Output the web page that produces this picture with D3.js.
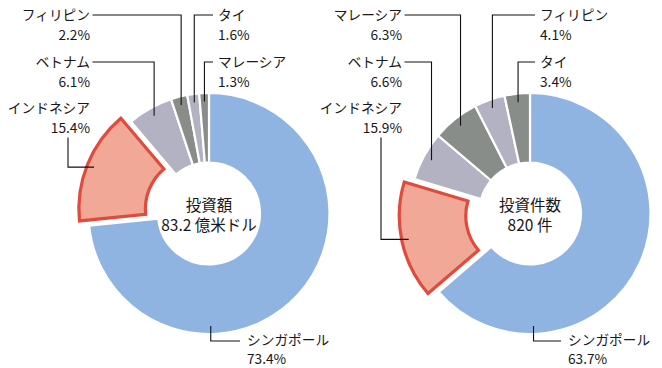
<!DOCTYPE html>
<html><head><meta charset="utf-8">
<script src="https://cdn.jsdelivr.net/npm/d3@7"></script>
<style>
html,body{margin:0;padding:0;background:#fff;}
text{font-family:"Noto Sans CJK JP","Noto Sans",sans-serif;fill:#1a1718;}
</style></head>
<body><svg id="c" width="662" height="368"></svg>
<script>
// ---- data ----
const leftCountries = ["シンガポール","インドネシア","ベトナム","フィリピン","タイ","マレーシア"];
const leftValues    = [73.4, 15.4, 6.1, 2.2, 1.6, 1.3];
const leftTitle     = ["投資額", "83.2 億米ドル"];

const rightCountries = ["シンガポール","インドネシア","ベトナム","マレーシア","フィリピン","タイ"];
const rightValues    = [63.7, 15.9, 6.6, 6.3, 4.1, 3.4];
const rightTitle     = ["投資件数", "820 件"];

const colorOf = {"シンガポール":"#8fb4e1","インドネシア":"#f1a897","ベトナム":"#b2b2c3",
  "フィリピン":"#898d89","タイ":"#b2b2c3","マレーシア":"#898d89"};
const rightColorOf = {"シンガポール":"#8fb4e1","インドネシア":"#f1a897","ベトナム":"#b2b2c3",
  "マレーシア":"#898d89","フィリピン":"#b2b2c3","タイ":"#898d89"};

// ---- layout ----
const svg = d3.select("#c");
const R = 120.5, r0 = 51, explode = 12, lead = 112;

const leftLayout = {
  "フィリピン": {kind:"h", side:"L", x:90, y:15, lh:19.5},
  "ベトナム":   {kind:"h", side:"L", x:90, y:62, lh:19.5},
  "インドネシア":{kind:"v", side:"L", x:90, y:108, lh:19.5, vx:68},
  "タイ":       {kind:"h", side:"R", x:218, y:15, lh:19.5},
  "マレーシア": {kind:"h", side:"R", x:218, y:62, lh:19.5},
  "シンガポール":{kind:"s", side:"R", x:247, y:340, lh:19, ang:Math.PI*0.995}
};
const rightLayout = {
  "マレーシア": {kind:"h", side:"L", x:402, y:15, lh:19.5},
  "ベトナム":   {kind:"h", side:"L", x:402, y:62, lh:19.5},
  "インドネシア":{kind:"v", side:"L", x:402, y:108, lh:19.5, vx:381},
  "フィリピン": {kind:"h", side:"R", x:540, y:15, lh:19.5},
  "タイ":       {kind:"h", side:"R", x:540, y:62, lh:19.5},
  "シンガポール":{kind:"s", side:"R", x:568, y:340, lh:19, ang:Math.PI*0.99}
};

function donut(cx, cy, cats, vals, colors, layout, title){
  const g = svg.append("g").attr("transform",`translate(${cx},${cy})`);
  const pie = d3.pie().sort(null).value(d=>d.v);
  const data = pie(cats.map((c,i)=>({c, v:vals[i]})));
  const arc = d3.arc().innerRadius(r0).outerRadius(R);
  data.forEach(d=>{
    const mid = (d.startAngle+d.endAngle)/2;
    const ex = d.data.c==="インドネシア";
    const off = ex ? explode : 0;
    const ox = Math.sin(mid)*off, oy = -Math.cos(mid)*off;
    if(ex){
      const arcIn = d3.arc().innerRadius(r0+1.5).outerRadius(R-1.5);
      g.append("path").attr("d", arcIn(d)).attr("transform",`translate(${ox},${oy})`)
        .attr("fill", colors[d.data.c]).attr("stroke","#df4b3d").attr("stroke-width",3.2)
        .attr("stroke-linejoin","miter");
    } else {
      g.append("path").attr("d", arc(d)).attr("fill", colors[d.data.c])
        .attr("stroke","#fff").attr("stroke-width",2.2);
    }
  });
  data.forEach(d=>{
    const L = layout[d.data.c];
    const mid = (d.startAngle+d.endAngle)/2;
    const ex = d.data.c==="インドネシア";
    const ang = L.ang!==undefined ? L.ang : mid;
    const rr = lead + (ex?explode:0);
    const ax = cx + Math.sin(ang)*rr, ay = cy - Math.cos(ang)*rr;
    let pts;
    if(L.kind==="h"){
      const sx = L.side==="L" ? L.x+2.5 : L.x-5;
      pts = [[sx, L.y],[ax, L.y],[ax, ay]];
    } else if(L.kind==="v"){
      pts = [[L.vx, L.y+L.lh+10],[L.vx, ay],[ax, ay]];
    } else {
      pts = [[ax, cy+R-8],[ax, L.y+1],[L.x-7, L.y+1]];
    }
    svg.append("path").attr("d", d3.line()(pts)).attr("fill","none")
      .attr("stroke","#111").attr("stroke-width",1.1);
    const anchor = L.side==="L" ? "end" : "start";
    const t = svg.append("text").attr("text-anchor",anchor).attr("font-size",13.7);
    t.append("tspan").attr("x",L.x).attr("y",L.y+5).text(d.data.c);
    t.append("tspan").attr("x",L.x).attr("y",L.y+5+L.lh).text(d.data.v.toFixed(1)+"%");
  });
  const tt = g.append("text").attr("text-anchor","middle").attr("font-size",15.5);
  tt.append("tspan").attr("x",0).attr("y",-3).text(title[0]);
  tt.append("tspan").attr("x",0).attr("y",17).text(title[1]);
}

donut(209, 213.5, leftCountries, leftValues, colorOf, leftLayout, leftTitle);
donut(530, 213.5, rightCountries, rightValues, rightColorOf, rightLayout, rightTitle);
</script></body></html>
